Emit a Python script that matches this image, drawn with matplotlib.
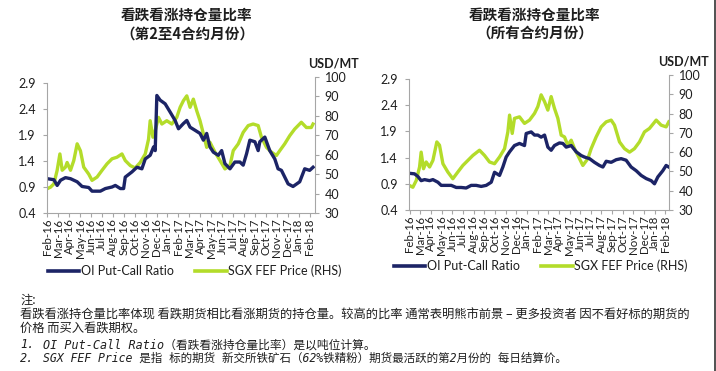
import matplotlib
matplotlib.use("Agg")
import matplotlib.pyplot as plt
from matplotlib.lines import Line2D

# ---------------- data ----------------
tick_labels = ["Feb-16", "Mar-16", "Apr-16", "May-16", "Jun-16", "Jul-16", "Aug-16", "Sep-16",
               "Oct-16", "Nov-16", "Dec-16", "Jan-17", "Feb-17", "Mar-17", "Apr-17", "May-17",
               "Jun-17", "Jul-17", "Aug-17", "Sep-17", "Oct-17", "Nov-17", "Dec-17", "Jan-18", "Feb-18"]

# left panel (2nd-4th contract months); x = months since Feb-16
l_ratio_x = [0.00, 0.61, 0.91, 1.22, 1.67, 2.13, 2.74, 3.19, 3.80, 4.10, 4.86, 5.32, 5.93, 6.23, 6.69,
             6.99, 7.14, 7.75, 8.21, 8.66, 8.97, 9.42, 9.73, 9.88, 10.03, 10.33, 10.79, 11.25, 11.70,
             12.01, 12.46, 12.77, 13.07, 13.53, 13.98, 14.29, 14.59, 14.89, 15.20, 15.65, 15.96, 16.26,
             16.72, 17.17, 17.63, 17.93, 18.24, 18.54, 19.00, 19.30, 19.45, 19.91, 20.36, 20.82, 21.12,
             21.43, 22.04, 22.49, 23.10, 23.56, 24.01, 24.32]
l_ratio = [1.06, 1.04, 0.93, 1.03, 1.08, 1.06, 1.00, 0.91, 0.89, 0.82, 0.82, 0.87, 0.90, 0.93, 0.87,
           0.87, 1.09, 1.19, 1.28, 1.25, 1.44, 1.51, 1.67, 1.60, 2.66, 2.57, 2.50, 2.34, 2.18,
           2.02, 2.12, 2.18, 2.05, 1.99, 1.93, 1.80, 1.93, 1.67, 1.57, 1.51, 1.60, 1.35,
           1.25, 1.38, 1.38, 1.32, 1.54, 1.80, 1.77, 1.60, 1.77, 1.86, 1.60, 1.44, 1.25,
           1.22, 0.96, 0.91, 1.00, 1.25, 1.22, 1.28]
l_price_x = [0.00, 0.30, 0.61, 0.91, 1.16, 1.37, 1.67, 1.82, 2.13, 2.43, 2.74, 3.04, 3.34, 3.80, 4.10,
             4.56, 5.02, 5.47, 5.93, 6.38, 6.84, 7.14, 7.60, 8.05, 8.51, 8.97, 9.27, 9.42, 9.67, 9.88,
             10.18, 10.49, 10.94, 11.40, 11.85, 12.16, 12.46, 12.77, 13.07, 13.37, 13.68, 13.98, 14.29,
             14.59, 14.89, 15.35, 15.81, 16.26, 16.72, 17.02, 17.48, 17.93, 18.39, 18.84, 19.30, 19.60,
             20.06, 20.52, 20.97, 21.28, 21.73, 22.19, 22.64, 23.25, 23.71, 24.16, 24.32]
l_price = [42.5, 43.3, 45.0, 52.0, 60.4, 52.0, 53.6, 56.0, 52.0, 57.0, 65.6, 62.0, 53.6, 50.0, 46.8,
           48.5, 52.0, 55.3, 57.9, 58.7, 60.4, 57.0, 54.4, 53.2, 56.0, 60.4, 68.0, 77.5, 69.0, 72.4,
           79.2, 75.8, 77.5, 75.8, 79.2, 84.4, 87.8, 90.3, 84.4, 88.6, 82.6, 77.5, 70.7,
           63.8, 66.4, 61.3, 57.0, 52.7, 54.4, 62.1, 65.6, 71.5, 75.0, 75.8, 75.0, 69.0,
           63.8, 61.3, 59.6, 62.1, 65.6, 69.8, 73.2, 76.7, 74.0, 74.0, 75.8]

# right panel (all contract months)
r_ratio_x = [0.00, 0.47, 0.78, 1.09, 1.41, 1.88, 2.19, 2.66, 2.97, 3.44, 3.91, 4.38, 4.84, 5.31, 5.78,
             6.25, 6.72, 7.19, 7.66, 7.97, 8.44, 8.75, 9.06, 9.38, 9.84, 10.31, 10.78, 10.94, 11.41,
             11.72, 12.03, 12.34, 12.66, 12.97, 13.28, 13.59, 14.06, 14.38, 14.69, 15.16, 15.63, 16.09,
             16.41, 16.88, 17.34, 17.81, 18.13, 18.44, 18.91, 19.38, 19.84, 20.31, 20.78, 21.25, 21.72,
             22.19, 22.66, 22.97, 23.28, 23.75, 24.06, 24.31]
r_ratio = [1.10, 1.09, 1.04, 0.96, 0.98, 0.96, 0.98, 0.93, 0.87, 0.87, 0.87, 0.83, 0.83, 0.82, 0.87,
           0.87, 0.85, 0.87, 0.93, 1.12, 1.06, 1.22, 1.41, 1.51, 1.63, 1.67, 1.63, 1.86, 1.89,
           1.83, 1.83, 1.79, 1.83, 1.60, 1.54, 1.63, 1.68, 1.67, 1.60, 1.63, 1.51, 1.44,
           1.41, 1.38, 1.31, 1.25, 1.22, 1.33, 1.31, 1.36, 1.38, 1.35, 1.22, 1.15, 1.06,
           1.00, 0.96, 0.90, 1.03, 1.15, 1.25, 1.22]
r_price_x = [0.00, 0.31, 0.63, 0.94, 1.09, 1.31, 1.56, 1.88, 2.19, 2.56, 2.81, 3.13, 3.59, 4.06, 4.53,
             5.00, 5.47, 5.94, 6.56, 7.03, 7.50, 7.97, 8.44, 8.91, 9.22, 9.38, 9.63, 9.84, 10.31,
             10.78, 11.25, 11.72, 12.03, 12.34, 12.66, 12.97, 13.28, 13.59, 13.91, 14.22, 14.53, 14.84,
             15.16, 15.47, 15.94, 16.25, 16.72, 17.03, 17.50, 17.97, 18.44, 18.91, 19.22, 19.69, 20.16,
             20.63, 21.09, 21.56, 22.03, 22.50, 23.13, 23.59, 24.06, 24.31]
r_price = [42.7, 41.8, 45.3, 52.3, 60.0, 51.4, 54.9, 52.3, 55.7, 65.3, 63.6, 54.0, 49.7, 46.2, 49.7,
           53.1, 55.7, 58.3, 61.0, 58.3, 54.9, 54.0, 57.5, 61.8, 70.5, 79.2, 69.7, 77.5, 78.3,
           74.9, 76.6, 80.1, 83.6, 89.7, 86.2, 81.8, 88.8, 82.7, 77.5, 68.8, 67.9, 63.6,
           66.2, 61.8, 56.6, 53.1, 56.6, 61.8, 67.9, 73.1, 75.7, 76.6, 74.0, 65.3, 61.8,
           60.0, 61.8, 65.3, 70.5, 72.3, 76.6, 74.0, 73.1, 75.7]

left_ticks = [0.4, 0.9, 1.4, 1.9, 2.4, 2.9]
right_ticks = [30, 40, 50, 60, 70, 80, 90, 100]
titles = ["看跌看涨持仓量比率\n（第2至4合约月份）", "看跌看涨持仓量比率\n（所有合约月份）"]
series_names = ["OI Put-Call Ratio", "SGX FEF Price (RHS)"]

# ---------------- style ----------------
W, H = 716, 371
BLUE = "#1c2466"
GREEN = "#b3dc2a"
AX_C = "#a6a6a6"
TXT = "#1e1e1e"
FONT = ["Lato", "DejaVu Sans"]
CJK = ["Noto Sans CJK SC", "DejaVu Sans"]

fig = plt.figure(figsize=(W / 100, H / 100), dpi=100)
fig.patch.set_facecolor("white")


def px(x0, y_top, x1, y_bot):
    return [x0 / W, 1 - y_bot / H, (x1 - x0) / W, (y_bot - y_top) / H]


def panel(rect_main, rect_twin, xlim, rx, ry, px_, py, usd_xy, leg_xy):
    ax2 = fig.add_axes(rect_twin)
    ax = fig.add_axes(rect_main)
    ax.set_zorder(ax2.get_zorder() + 1)
    ax.patch.set_visible(False)

    ax2.plot(px_, py, color=GREEN, lw=2.4, solid_joinstyle="round")
    ax.plot(rx, ry, color=BLUE, lw=2.4, solid_joinstyle="round")

    ax.set_xlim(*xlim)
    ax2.set_xlim(*xlim)
    ax.set_ylim(0.4, 2.9)
    ax2.set_ylim(30, 100)
    ax.set_yticks(left_ticks)
    ax.set_yticklabels([f"{v:.1f}" for v in left_ticks])
    ax2.set_yticks(right_ticks)
    ax.set_xticks(range(len(tick_labels)))
    ax.set_xticklabels(tick_labels, rotation=90)

    for s in ["top", "right"]:
        ax.spines[s].set_visible(False)
    for s in ["top", "left", "bottom"]:
        ax2.spines[s].set_visible(False)
    for s in ["left", "bottom"]:
        ax.spines[s].set_color(AX_C)
        ax.spines[s].set_linewidth(0.8)
    ax2.spines["right"].set_color(AX_C)
    ax2.spines["right"].set_linewidth(0.8)
    ax2.patch.set_visible(False)
    ax2.set_xticks([])
    ax2.yaxis.tick_right()

    ax.tick_params(axis="y", length=3, color=AX_C, labelsize=9, labelcolor=TXT, pad=5)
    ax.tick_params(axis="x", length=3, color=AX_C, labelsize=8.3, labelcolor=TXT, pad=1)
    ax2.tick_params(axis="y", length=3, color=AX_C, labelsize=9, labelcolor=TXT, pad=4)
    for lab in ax.get_xticklabels() + ax.get_yticklabels() + ax2.get_yticklabels():
        lab.set_family(FONT)

    handles = [Line2D([], [], color=BLUE, lw=2.6), Line2D([], [], color=GREEN, lw=2.6)]
    fig.legend(handles, series_names, loc="center left",
               bbox_to_anchor=(leg_xy[0] / W, 1 - leg_xy[1] / H), ncol=2, frameon=False,
               prop={"family": FONT, "size": 9}, handlelength=2.5, handletextpad=0.15,
               columnspacing=1.7, borderpad=0, borderaxespad=0, labelcolor=TXT)
    fig.text(usd_xy[0] / W, 1 - usd_xy[1] / H, "USD/MT", ha="center", va="center",
             family=FONT, fontweight="bold", fontsize=9, color=TXT)
    return ax, ax2


panel(px(47, 83, 315, 213), px(47, 77, 315, 213), (-0.02, 24.5), l_ratio_x, l_ratio,
      l_price_x, l_price, (333, 63), (48, 271))
panel(px(409, 79, 669, 210), px(409, 75, 669, 210), (-0.05, 24.33), r_ratio_x, r_ratio,
      r_price_x, r_price, (683, 62), (394, 266))

# titles
for t, xc in zip(titles, [187, 535]):
    fig.text(xc / W, 1 - 24 / H, t, ha="center", va="center", family=CJK,
             fontweight="bold", fontsize=10.5, color=TXT, linespacing=1.25)

# notes
note_font = ["Noto Sans CJK SC", "DejaVu Sans"]
fig.text(20 / W, 1 - 300 / H, "注:", family=note_font, fontsize=8.8, va="center",
         style="italic", color=TXT)
fig.text(20 / W, 1 - 315.5 / H,
         "看跌看涨持仓量比率体现 看跌期货相比看涨期货的持仓量。较高的比率 通常表明熊市前景 – 更多投资者 因不看好标的期货的",
         family=note_font, fontsize=8.85, va="center", color=TXT)
fig.text(20 / W, 1 - 328 / H, "价格 而买入看跌期权。", family=note_font, fontsize=8.85,
         va="center", color=TXT)
mono = ["DejaVu Sans Mono", "Noto Sans CJK SC"]
fig.text(20 / W, 1 - 345 / H, "1.", family=mono, fontsize=8.5, style="italic", va="center", color=TXT)
fig.text(43 / W, 1 - 345 / H, "OI Put-Call Ratio（看跌看涨持仓量比率）是以吨位计算。", family=mono,
         fontsize=8.5, style="italic", va="center", color=TXT)
fig.text(20 / W, 1 - 358 / H, "2.", family=mono, fontsize=8.5, style="italic", va="center", color=TXT)
fig.text(43 / W, 1 - 358 / H,
         "SGX FEF Price 是指 标的期货 新交所铁矿石（62%铁精粉）期货最活跃的第2月份的 每日结算价。",
         family=mono, fontsize=8.3, style="italic", va="center", color=TXT)

# right border
fig.add_artist(Line2D([715 / W, 715 / W], [0, 1], color="#333333", lw=1.2,
                      transform=fig.transFigure))

fig.savefig("out.png", dpi=100, facecolor="white")
